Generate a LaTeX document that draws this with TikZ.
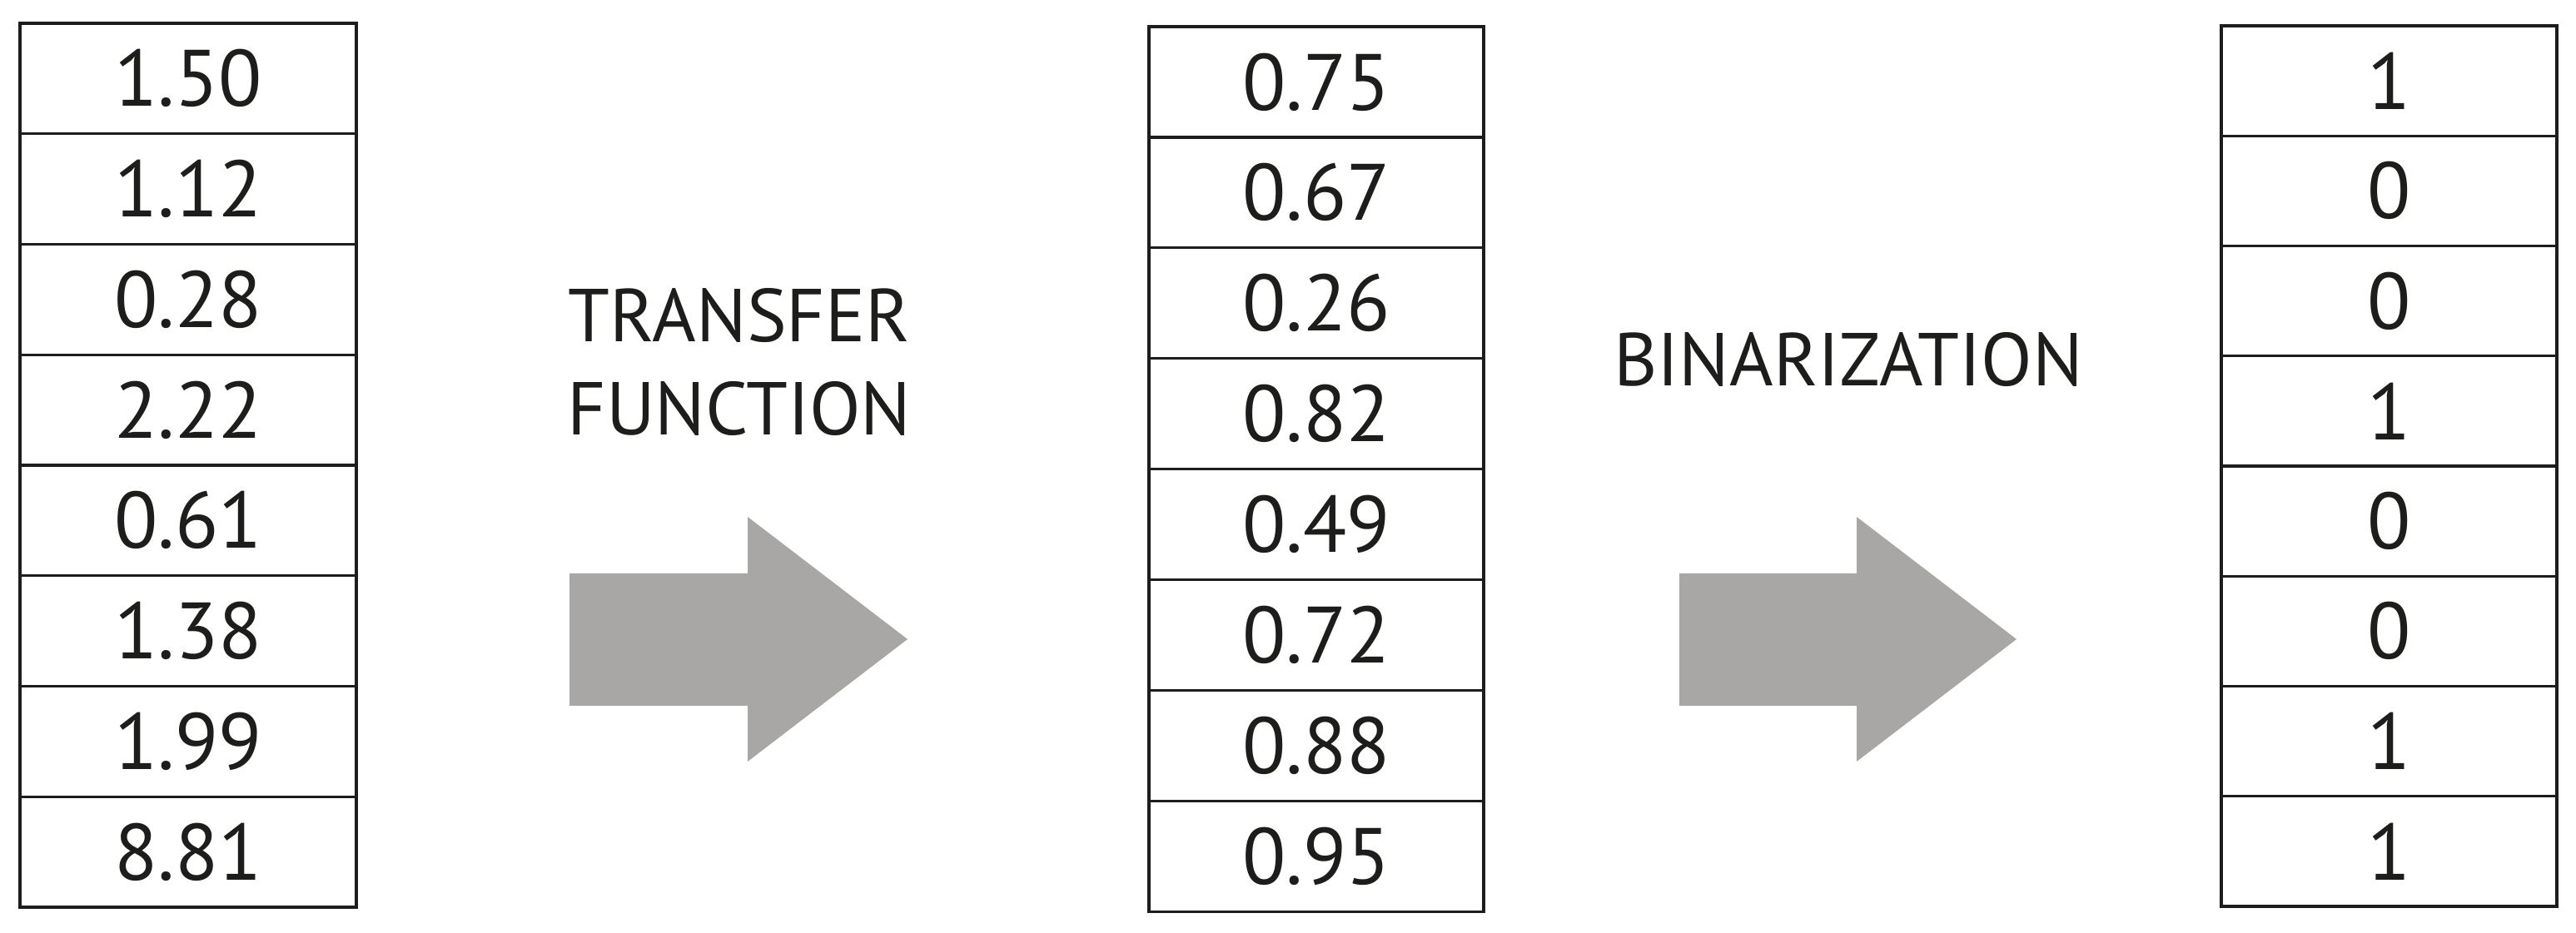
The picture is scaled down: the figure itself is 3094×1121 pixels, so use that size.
\documentclass[tikz,border=0pt]{standalone}
\usepackage{fontspec}
\setmainfont{PT Sans}
\definecolor{ink}{HTML}{1D1D1B}
\definecolor{arrowgray}{HTML}{A8A7A5}
\tikzset{
  cell/.style={draw=ink, line width=0.83pt, rectangle, inner sep=0pt, text=ink,
    font=\fontsize{24}{28}\selectfont},
  lbl/.style={inner sep=0pt, text=ink, align=center, font=\fontsize{22.5}{28}\selectfont},
  bigarrow/.style={fill=arrowgray, draw=none}
}
\begin{document}
\begin{tikzpicture}[x=0.25pt, y=-0.25pt]
\useasboundingbox (0,0) rectangle (3094,1121);
% left column
\foreach \v [count=\i] in {1.50,1.12,0.28,2.22,0.61,1.38,1.99,8.81}{
  \node[cell, minimum width=404*0.25pt, minimum height=132.75*0.25pt]
    (L\i) at (226, {28+132.75*(\i-0.5)}) {\v};
}
% middle column
\foreach \v [count=\i] in {0.75,0.67,0.26,0.82,0.49,0.72,0.88,0.95}{
  \node[cell, minimum width=402*0.25pt, minimum height=132.9*0.25pt]
    (M\i) at (1581, {32+132.9*(\i-0.5)}) {\v};
}
% right column
\foreach \v [count=\i] in {1,0,0,1,0,0,1,1}{
  \node[cell, minimum width=403*0.25pt, minimum height=132.25*0.25pt]
    (R\i) at (2869.5, {31+132.25*(\i-0.5)}) {\v};
}
% labels
\node[lbl] (tf) at (888,435.5) {TRANSFER\\FUNCTION};
\node[lbl, anchor=base] (bin) at (2220,464) {BINARIZATION};
% arrows
\fill[bigarrow] (684,689) -- (898,689) -- (898,621) -- (1090,768) -- (898,915) -- (898,848) -- (684,848) -- cycle;
\fill[bigarrow] (2017,689) -- (2230,689) -- (2230,621) -- (2422,768) -- (2230,915) -- (2230,848) -- (2017,848) -- cycle;
\end{tikzpicture}
\end{document}
